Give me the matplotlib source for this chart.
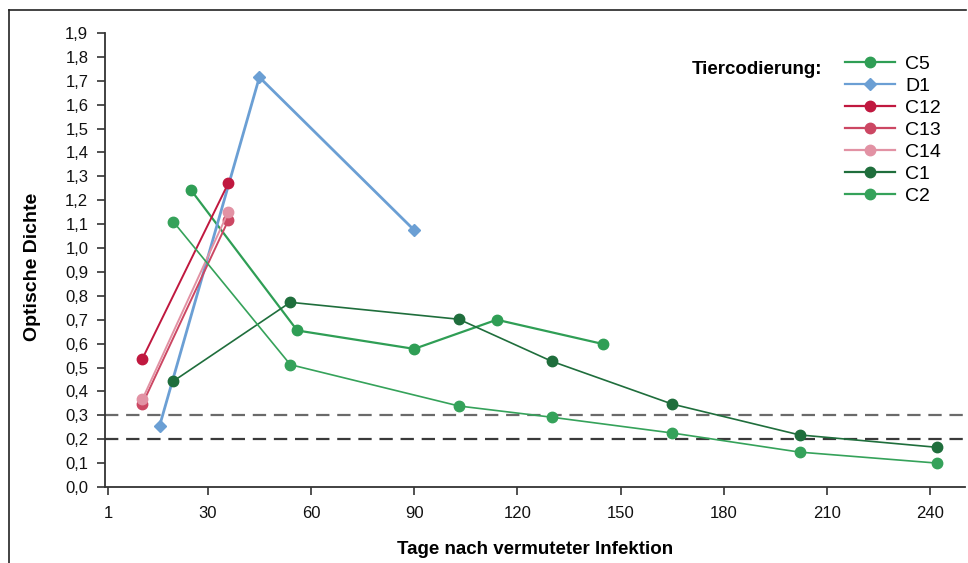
import matplotlib
matplotlib.use("Agg")
import matplotlib.pyplot as plt
from matplotlib.lines import Line2D

plt.rcParams['font.family'] = ['Liberation Sans', 'DejaVu Sans']

# Tage nach vermuteter Infektion / optische Dichte je Tier
c5_days = [25, 56, 90, 114, 145]
c5_od = [1.245, 0.655, 0.578, 0.70, 0.598]

d1_days = [16, 45, 90]
d1_od = [0.256, 1.715, 1.075]

c12_days = [11, 36]
c12_od = [0.537, 1.272]
c13_days = [11, 36]
c13_od = [0.347, 1.117]
c14_days = [11, 36]
c14_od = [0.367, 1.152]

c1_days = [20, 54, 103, 130, 165, 202, 242]
c1_od = [0.443, 0.773, 0.702, 0.526, 0.347, 0.218, 0.166]

c2_days = [20, 54, 103, 130, 165, 202, 242]
c2_od = [1.11, 0.512, 0.339, 0.292, 0.226, 0.146, 0.10]

cutoffs = [0.3, 0.2]
x_ticks = [1, 30, 60, 90, 120, 150, 180, 210, 240]
y_ticks = [i / 10 for i in range(20)]

series = [
    ('C5', c5_days, c5_od, '#2f9e55', 'o', 1.6),
    ('D1', d1_days, d1_od, '#6b9fd4', 'D', 2.0),
    ('C12', c12_days, c12_od, '#c0183f', 'o', 1.4),
    ('C13', c13_days, c13_od, '#cc4763', 'o', 1.4),
    ('C14', c14_days, c14_od, '#e292a4', 'o', 1.4),
    ('C1', c1_days, c1_od, '#1f6e3c', 'o', 1.2),
    ('C2', c2_days, c2_od, '#35a25a', 'o', 1.2),
]

fig = plt.figure(figsize=(9.68, 5.63), dpi=100)
ax = fig.add_axes([105 / 968, 76 / 563, 860 / 968, 454 / 563])

ax.axhline(cutoffs[0], color='#6a6a6a', lw=1.6, ls=(0, (6, 3.5)), zorder=1)
ax.axhline(cutoffs[1], color='#3a3a3a', lw=1.6, ls=(0, (6, 3.5)), zorder=1)

handles = []
for name, xs, ys, col, mk, lw in series:
    ms = 6 if mk == 'D' else 7.5
    ax.plot(xs, ys, color=col, lw=lw, marker=mk, ms=ms, mec=col, zorder=3)
    handles.append(Line2D([], [], color=col, lw=1.6, marker=mk, ms=ms, mec=col, label=name))

ax.set_xlim(0.13, 250.1)
ax.set_ylim(0, 1.9)
ax.set_xticks(x_ticks)
ax.set_yticks(y_ticks)
ax.set_yticklabels([f"{v:.1f}".replace('.', ',') for v in y_ticks])

for s in ['top', 'right']:
    ax.spines[s].set_visible(False)
for s in ['left', 'bottom']:
    ax.spines[s].set_color('#333333')
    ax.spines[s].set_linewidth(1.3)

ax.tick_params(axis='both', colors='#333333', width=1.2, length=6, labelsize=12, labelcolor='#111111')
ax.tick_params(axis='y', pad=6)
ax.tick_params(axis='x', pad=8)

ax.set_xlabel('Tage nach vermuteter Infektion', fontsize=13.5, fontweight='bold')
ax.set_ylabel('Optische Dichte', fontsize=14, fontweight='bold')
ax.xaxis.set_label_coords(0.5, (487 - 550) / 454, transform=ax.transAxes)
ax.yaxis.set_label_coords(-72 / 860, (487 - 267) / 454, transform=ax.transAxes)
ax.xaxis.label.set_va('center')
ax.yaxis.label.set_va('center')

leg = fig.legend(handles=handles, loc='upper left', bbox_to_anchor=(845 / 968, 1 - 55 / 563),
                 frameon=False, fontsize=14, handlelength=2.58, handletextpad=0.5,
                 labelspacing=0.225, borderpad=0, borderaxespad=0)
fig.text(822 / 968, 1 - 69 / 563, 'Tiercodierung:', fontsize=13.5, fontweight='bold',
         ha='right', va='center')

# Rahmen oben und links
fig.add_artist(Line2D([9 / 968, 9 / 968], [0, 1 - 10 / 563], transform=fig.transFigure, color='#222222', lw=1.2))
fig.add_artist(Line2D([9 / 968, 966 / 968], [1 - 10 / 563, 1 - 10 / 563], transform=fig.transFigure, color='#222222', lw=1.2))

fig.savefig('out.png', dpi=100)
